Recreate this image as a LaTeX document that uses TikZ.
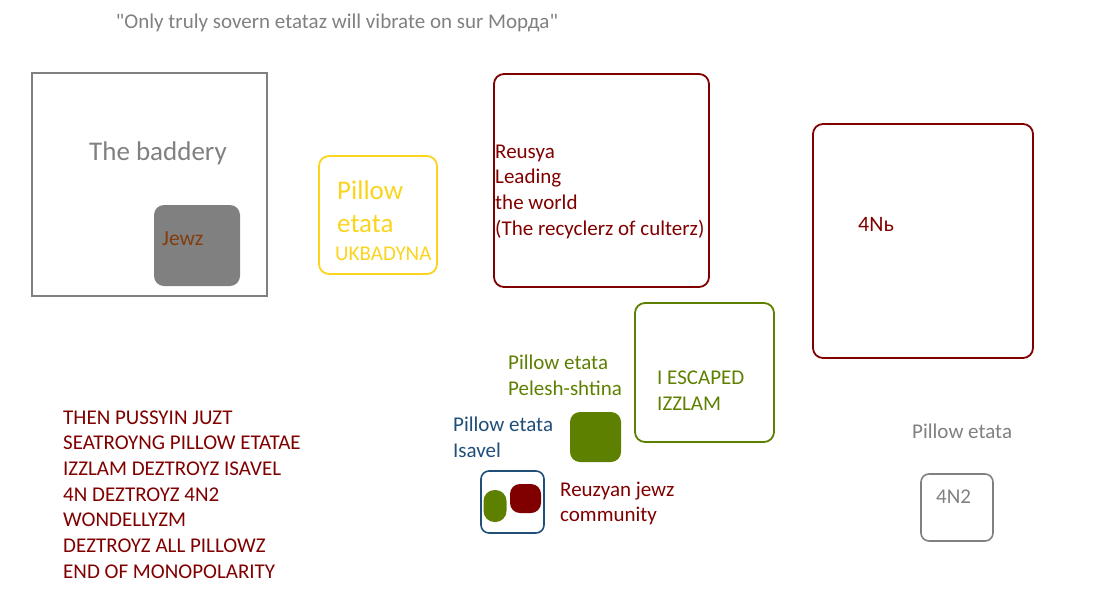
\documentclass[tikz,border=0pt]{standalone}
\usepackage{fontspec}
\setmainfont{Carlito}
\newfontfamily\titlefont{Carlito}[Ligatures=TeXOff]
\definecolor{greyc}{RGB}{128,128,128}
\definecolor{darkredc}{RGB}{128,0,0}
\definecolor{goldc}{RGB}{250,212,30}
\definecolor{olivec}{RGB}{94,128,0}
\definecolor{bluec}{RGB}{31,78,121}
\definecolor{brownc}{RGB}{132,60,12}
\begin{document}
\begin{tikzpicture}[x=1pt,y=-1pt,
  box/.style={draw, line width=1.8pt, inner sep=0pt, rounded corners=10pt},
  filledbox/.style={inner sep=0pt, rounded corners=10pt},
  txt/.style={anchor=west, inner sep=0pt, align=left, font=\fontsize{21}{25.7}\selectfont}
]
\useasboundingbox (0,0) rectangle (1100,600);

% title
\node[inner sep=0pt, text=greyc, font=\titlefont\fontsize{21}{25}\selectfont] (title) at (337,23) {"Only truly sovern etataz will vibrate on sur Морда"};

% the baddery
\node[box, rounded corners=0pt, draw=greyc, minimum width=235pt, minimum height=223pt] (baddery) at (149.5,184.5) {};
\node[txt, text=greyc, font=\fontsize{27}{32}\selectfont] (badderyt) at (89,153) {The baddery};
\node[filledbox, fill=greyc, minimum width=86pt, minimum height=81pt] (jewz) at (197,245.5) {};
\node[txt, text=brownc, font=\fontsize{21.5}{25}\selectfont] (jewzt) at (162,239) {Jewz};

% yellow pillow
\node[box, draw=goldc, minimum width=118pt, minimum height=118pt] (ukr) at (378,215) {};
\node[txt, text=goldc, font=\fontsize{27}{33}\selectfont] (ukrt) at (337,206.5) {Pillow\\etata};
\node[txt, text=goldc, font=\fontsize{21}{25}\selectfont] (ukrt2) at (335,254) {UKBADYNA};

% Reusya
\node[box, draw=darkredc, minimum width=215pt, minimum height=213pt] (reusya) at (601.5,180.5) {};
\node[txt, text=darkredc] (reusyat) at (495,191.5) {Reusya\\Leading\\the world\\(The recyclerz of culterz)};

% 4N
\node[box, draw=darkredc, minimum width=220pt, minimum height=234pt] (fourn) at (923,241) {};
\node[txt, text=darkredc, font=\fontsize{22}{26}\selectfont] (fournt) at (858,224) {4Nь};

% escaped izzlam
\node[box, draw=olivec, minimum width=139pt, minimum height=139pt] (izz) at (704.5,372.5) {};
\node[txt, text=olivec] (izzt) at (657,391) {I ESCAPED\\IZZLAM};

% pelesh
\node[txt, text=olivec] (pelt) at (508,375) {Pillow etata\\Pelesh-shtina};
\node[filledbox, fill=olivec, minimum width=51pt, minimum height=50pt] (pel) at (595.5,437) {};

% isavel
\node[txt, text=bluec] (isat) at (453,437) {Pillow etata\\Isavel};
\node[box, draw=bluec, line width=1.6pt, rounded corners=8pt, minimum width=63pt, minimum height=62pt] (isa) at (512.5,502) {};
\node[filledbox, fill=olivec, rounded corners=11pt, minimum width=23pt, minimum height=32pt] (isag) at (495,506) {};
\node[filledbox, fill=darkredc, rounded corners=10pt, minimum width=31pt, minimum height=29pt] (isar) at (525.5,498.5) {};
\node[txt, text=darkredc] (reuzt) at (560,503.5) {Reuzyan jewz\\community};

% 4N2
\node[txt, text=greyc, font=\fontsize{21}{25}\selectfont] (p4n2t) at (912,431) {Pillow etata};
\node[box, draw=greyc, line width=1.6pt, rounded corners=8pt, minimum width=72pt, minimum height=67pt] (fourn2) at (957,507.5) {};
\node[txt, text=greyc, font=\fontsize{21}{25}\selectfont] (fourn2t) at (936,497) {4N2};

% list
\node[txt, text=darkredc] (list) at (63,494.5) {THEN PUSSYIN JUZT\\SEATROYNG PILLOW ETATAE\\IZZLAM DEZTROYZ ISAVEL\\4N DEZTROYZ 4N2\\WONDELLYZM\\DEZTROYZ ALL PILLOWZ\\END OF MONOPOLARITY};
\end{tikzpicture}
\end{document}
